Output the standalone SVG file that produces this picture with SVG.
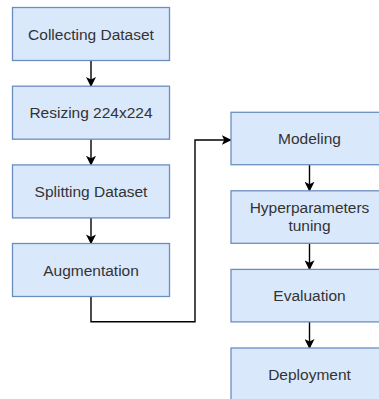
<svg xmlns="http://www.w3.org/2000/svg" width="379" height="399" viewBox="0 0 379 399">
<style>
.box{fill:#dae8fc;stroke:#6c8ebf;stroke-width:1.3}
.lbl{font-family:"Liberation Sans",Arial,sans-serif;font-size:15.5px;fill:#333;text-anchor:middle}
.edge{fill:none;stroke:#000;stroke-width:1.4}
</style>
<defs>
<marker id="arr" viewBox="0 0 10 10" refX="9" refY="5" markerWidth="10" markerHeight="10" markerUnits="userSpaceOnUse" orient="auto">
<path d="M0,0 L10,5 L0,10 L2.5,5 Z" fill="#000"/>
</marker>
</defs>
<rect width="379" height="399" fill="#fff"/>
<g id="connectors">
<path class="edge" d="M91,60.5 V86" marker-end="url(#arr)"/>
<path class="edge" d="M91,139.2 V164.8" marker-end="url(#arr)"/>
<path class="edge" d="M91,218 V243.4" marker-end="url(#arr)"/>
<path class="edge" d="M91,296.5 V321.7 H195 V140 H230.7" marker-end="url(#arr)"/>
<path class="edge" d="M309.5,164.7 V190.7" marker-end="url(#arr)"/>
<path class="edge" d="M309.5,243.3 V269.3" marker-end="url(#arr)"/>
<path class="edge" d="M309.5,321.9 V348" marker-end="url(#arr)"/>
</g>
<g id="n1"><rect class="box" x="12.5" y="7.5" width="157" height="53"/><text class="lbl" x="91" y="39.5">Collecting Dataset</text></g>
<g id="n2"><rect class="box" x="12.5" y="86.2" width="157" height="53"/><text class="lbl" x="91" y="118.2">Resizing 224x224</text></g>
<g id="n3"><rect class="box" x="12.5" y="164.9" width="157" height="53"/><text class="lbl" x="91" y="196.9">Splitting Dataset</text></g>
<g id="n4"><rect class="box" x="12.5" y="243.5" width="157" height="53"/><text class="lbl" x="91" y="275.5">Augmentation</text></g>
<g id="n5"><rect class="box" x="231" y="112.3" width="157" height="52.4"/><text class="lbl" x="309.5" y="143.8">Modeling</text></g>
<g id="n6"><rect class="box" x="231" y="190.8" width="157" height="52.5"/><text class="lbl" x="309.5" y="213.3">Hyperparameters</text><text class="lbl" x="309.5" y="231.3">tuning</text></g>
<g id="n7"><rect class="box" x="231" y="269.4" width="157" height="52.5"/><text class="lbl" x="309.5" y="301">Evaluation</text></g>
<g id="n8"><rect class="box" x="231" y="348" width="157" height="53"/><text class="lbl" x="309.5" y="379.5">Deployment</text></g>
</svg>
